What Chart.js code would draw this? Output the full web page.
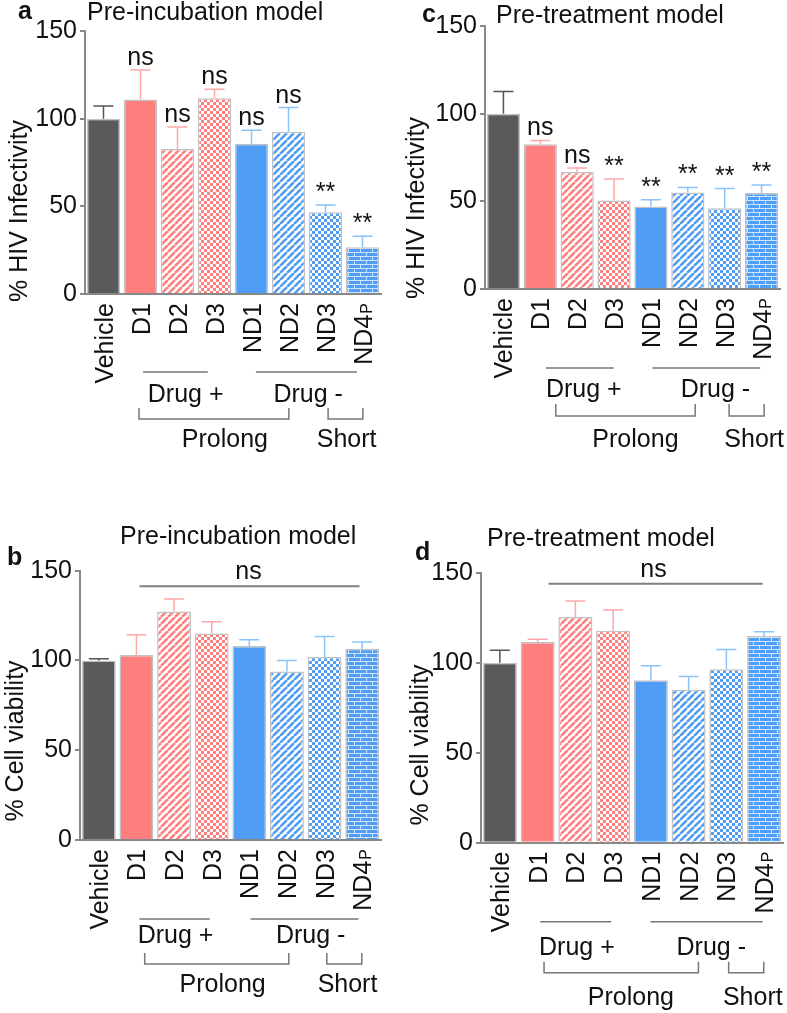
<!DOCTYPE html>
<html lang="en">
<head>
<meta charset="UTF-8">
<title>HIV infectivity and cell viability</title>
<script src="https://cdn.jsdelivr.net/npm/chart.js@4"></script>
<style>
  body { margin: 0; background: #fff; }
  canvas { position: absolute; }
</style>
</head>
<body>
<canvas id="chartA" width="393" height="510" style="left:0;top:0"></canvas>
<canvas id="chartC" width="394" height="510" style="left:393px;top:0"></canvas>
<canvas id="chartB" width="393" height="508" style="left:0;top:505px"></canvas>
<canvas id="chartD" width="394" height="508" style="left:393px;top:505px"></canvas>
<script>
// ---- data ----
const categories = ['Vehicle', 'D1', 'D2', 'D3', 'ND1', 'ND2', 'ND3', 'ND4P'];
const yTicks = [0, 50, 100, 150];

const infectPreIncubation    = [100, 111, 82.7, 111.6, 85.7, 92.6, 46.6, 26.6];
const infectPreIncubationErr = [7.2, 16.8, 12.6, 5.2, 7.7, 13.7, 4.2, 6.3];
const infectPreIncubationSig = ['', 'ns', 'ns', 'ns', 'ns', 'ns', '**', '**'];

const infectPreTreatment    = [100, 82.6, 66.7, 50.5, 47, 55, 46.1, 54.7];
const infectPreTreatmentErr = [12.6, 2.1, 2.3, 12.2, 3.9, 2.9, 11.2, 4.6];
const infectPreTreatmentSig = ['', 'ns', 'ns', '**', '**', '**', '**', '**'];

const viabPreIncubation    = [100, 103, 127.3, 115, 108, 93.9, 101.9, 106.5];
const viabPreIncubationErr = [1, 11.3, 6.9, 6.6, 3.5, 6.1, 11.5, 3.8];

const viabPreTreatment    = [100, 111.5, 125.4, 117.8, 90.2, 85, 96.3, 114.8];
const viabPreTreatmentErr = [6.9, 1.5, 8.9, 11.5, 8.1, 7.4, 11.1, 2.4];

// ---- look ----
const FONT = '"Liberation Sans", Arial, sans-serif';
const FS = 25;
const DARK = '#5a5a5a', SALMON = '#ff7f7f', BLUE = '#4f9df5';
const AXIS = '#888';

function tile(ctx, size, w, h, drawFn) {
  const c = document.createElement('canvas');
  c.width = w; c.height = h;
  drawFn(c.getContext('2d'));
  return ctx.createPattern(c, 'repeat');
}
function stripes(ctx, fg) {
  return tile(ctx, 7, 7, 7, g => {
    g.fillStyle = '#fff'; g.fillRect(0, 0, 7, 7);
    g.strokeStyle = fg; g.lineWidth = 2.6;
    g.beginPath();
    for (let k = -7; k <= 14; k += 7) { g.moveTo(k, 7); g.lineTo(k + 7, 0); }
    g.stroke();
  });
}
function checker(ctx, fg) {
  return tile(ctx, 6, 6, 6, g => {
    g.fillStyle = fg; g.fillRect(0, 0, 6, 6);
    g.fillStyle = '#fff'; g.fillRect(0, 0, 3, 3); g.fillRect(3, 3, 3, 3);
  });
}
function brick(ctx, fg) {
  return tile(ctx, 0, 12, 8, g => {
    g.fillStyle = fg; g.fillRect(0, 0, 12, 8);
    g.fillStyle = '#cfe4fd';
    g.fillRect(0, 0, 12, 1); g.fillRect(0, 4, 12, 1);
    g.fillRect(0, 0, 1, 4); g.fillRect(6, 4, 1, 4);
  });
}

function fills(ctx) {
  return [DARK, SALMON, stripes(ctx, SALMON), checker(ctx, SALMON),
          BLUE, stripes(ctx, BLUE), checker(ctx, BLUE), brick(ctx, BLUE)];
}
const errColors = ['#555', '#ffa8a8', '#ffa8a8', '#ffa8a8', '#8cc2fb', '#8cc2fb', '#8cc2fb', '#8cc2fb'];

const panels = [
  { id: 'chartA', letter: 'a', title: 'Pre-incubation model', yTitle: '% HIV Infectivity',
    values: infectPreIncubation, errors: infectPreIncubationErr, sig: infectPreIncubationSig,
    W: 393, H: 510, area: { l: 85, r: 381, t: 31, b: 294 },
    titleX: 87, titleY: 20, letterX: 18, letterY: 19, yTitleX: 27, yTitleY: 211,
    br: { line: 78, text: 108, top: 114, bot: 125, text2: 153,
          plus: [1.07, 2.82], minus: [4.12, 6.85], prolong: [0.96, 5.01], short: [6.07, 7.01],
          plusC: 2.22, minusC: 5.53, prolongC: 3.28, shortC: 6.57 } },
  { id: 'chartC', letter: 'c', title: 'Pre-treatment model', yTitle: '% HIV Infectivity',
    values: infectPreTreatment, errors: infectPreTreatmentErr, sig: infectPreTreatmentSig,
    W: 394, H: 510, area: { l: 92, r: 387, t: 26, b: 289 },
    titleX: 103, titleY: 23, letterX: 29, letterY: 22, yTitleX: 31, yTitleY: 208,
    br: { line: 79, text: 108, top: 115, bot: 127, text2: 158,
          plus: [1.15, 2.99], minus: [4.04, 6.96], prolong: [1.42, 5.2], short: [6.12, 7.07],
          plusC: 2.18, minusC: 5.75, prolongC: 3.58, shortC: 6.8 } },
  { id: 'chartB', letter: 'b', title: 'Pre-incubation model', yTitle: '% Cell viability',
    values: viabPreIncubation, errors: viabPreIncubationErr, sig: null,
    W: 393, H: 508, area: { l: 80, r: 381, t: 65.7, b: 335 },
    titleX: 120, titleY: 39, letterX: 7, letterY: 60, yTitleX: 23, yTitleY: 236,
    ns: { from: 1.08, to: 6.93, y: 141.3, textX: 3.98, textY: 145.6 },
    br: { line: 79, text: 103, top: 113, bot: 124, text2: 152,
          plus: [1.08, 2.95], minus: [4.03, 6.9], prolong: [1.22, 5.05], short: [6.06, 6.99],
          plusC: 2.04, minusC: 5.63, prolongC: 3.29, shortC: 6.61 } },
  { id: 'chartD', letter: 'd', title: 'Pre-treatment model', yTitle: '% Cell viability',
    values: viabPreTreatment, errors: viabPreTreatmentErr, sig: null,
    W: 394, H: 508, area: { l: 88, r: 390, t: 67.7, b: 337.7 },
    titleX: 94, titleY: 41, letterX: 22, letterY: 55, yTitleX: 35, yTitleY: 240,
    ns: { from: 1.29, to: 6.96, y: 143.9, textX: 4.07, textY: 147.6 },
    br: { line: 79, text: 112, top: 119, bot: 130, text2: 162,
          plus: [1.07, 2.95], minus: [3.99, 6.96], prolong: [1.17, 5.26], short: [6.06, 6.99],
          plusC: 2.04, minusC: 5.6, prolongC: 3.47, shortC: 6.7 } }
];

function text(ctx, s, x, y, opts = {}) {
  ctx.save();
  ctx.font = (opts.bold ? 'bold ' : '') + (opts.size || FS) + 'px ' + FONT;
  ctx.fillStyle = opts.color || '#111';
  ctx.textAlign = opts.align || 'left';
  ctx.textBaseline = 'alphabetic';
  ctx.fillText(s, x, y);
  ctx.restore();
}

function catLabel(ctx, label, x, y) {
  ctx.save();
  ctx.translate(x, y);
  ctx.rotate(-Math.PI / 2);
  ctx.textAlign = 'right';
  ctx.fillStyle = '#111';
  const off = FS * 0.36;
  if (label === 'ND4P') {
    ctx.font = Math.round(FS * 0.62) + 'px ' + FONT;
    ctx.fillText('P', 0, off);
    const w = ctx.measureText('P').width;
    ctx.font = FS + 'px ' + FONT;
    ctx.fillText('ND4', -w - 1, off);
  } else {
    ctx.font = FS + 'px ' + FONT;
    ctx.fillText(label, 0, off);
  }
  ctx.restore();
}

function makeExtras(p) {
  return {
    id: 'extras_' + p.id,
    afterDatasetsDraw(chart) {
      const ctx = chart.ctx, y = chart.scales.y;
      const bars = chart.getDatasetMeta(0).data;
      ctx.save();
      ctx.lineWidth = 1.5;
      bars.forEach((bar, i) => {
        const top = y.getPixelForValue(p.values[i] + p.errors[i]);
        const base = y.getPixelForValue(p.values[i]);
        ctx.strokeStyle = errColors[i];
        ctx.beginPath();
        ctx.moveTo(bar.x, base); ctx.lineTo(bar.x, top);
        ctx.moveTo(bar.x - 10, top); ctx.lineTo(bar.x + 10, top);
        ctx.stroke();
        if (p.sig && p.sig[i]) text(ctx, p.sig[i], bar.x, top - 5, { align: 'center' });
      });
      ctx.restore();
    },
    afterDraw(chart) {
      const ctx = chart.ctx, x = chart.scales.x, y = chart.scales.y;
      const x0 = x.getPixelForValue(0), step = x.getPixelForValue(1) - x0;
      const px = u => x0 + u * step;
      const bottom = chart.chartArea.bottom;

      text(ctx, p.letter, p.letterX, p.letterY, { bold: true });
      text(ctx, p.title, p.titleX, p.titleY);

      ctx.save();
      ctx.translate(p.yTitleX, p.yTitleY);
      ctx.rotate(-Math.PI / 2);
      text(ctx, p.yTitle, 0, 0, { align: 'center' });
      ctx.restore();

      categories.forEach((c, i) => catLabel(ctx, c, px(i), bottom + 9));

      const b = p.br;
      ctx.save();
      ctx.strokeStyle = '#777';
      ctx.lineWidth = 1.5;
      ctx.beginPath();
      ctx.moveTo(px(b.plus[0]), bottom + b.line); ctx.lineTo(px(b.plus[1]), bottom + b.line);
      ctx.moveTo(px(b.minus[0]), bottom + b.line); ctx.lineTo(px(b.minus[1]), bottom + b.line);
      [b.prolong, b.short].forEach(r => {
        ctx.moveTo(px(r[0]), bottom + b.top);
        ctx.lineTo(px(r[0]), bottom + b.bot);
        ctx.lineTo(px(r[1]), bottom + b.bot);
        ctx.lineTo(px(r[1]), bottom + b.top);
      });
      ctx.stroke();
      ctx.restore();
      text(ctx, 'Drug +', px(b.plusC), bottom + b.text, { align: 'center' });
      text(ctx, 'Drug -', px(b.minusC), bottom + b.text, { align: 'center' });
      text(ctx, 'Prolong', px(b.prolongC), bottom + b.text2, { align: 'center' });
      text(ctx, 'Short', px(b.shortC), bottom + b.text2, { align: 'center' });

      if (p.ns) {
        const ly = y.getPixelForValue(p.ns.y);
        ctx.save();
        ctx.strokeStyle = '#808080';
        ctx.lineWidth = 2;
        ctx.beginPath();
        ctx.moveTo(px(p.ns.from), ly); ctx.lineTo(px(p.ns.to), ly);
        ctx.stroke();
        ctx.restore();
        text(ctx, 'ns', px(p.ns.textX), y.getPixelForValue(p.ns.textY), { align: 'center' });
      }
    }
  };
}

panels.forEach(p => {
  const canvas = document.getElementById(p.id);
  const ctx = canvas.getContext('2d');
  new Chart(ctx, {
    type: 'bar',
    data: {
      labels: categories,
      datasets: [{
        data: p.values,
        backgroundColor: fills(ctx),
        borderColor: '#c2c2c2',
        borderWidth: 1.5,
        barPercentage: 0.9,
        categoryPercentage: 1.0
      }]
    },
    options: {
      responsive: false,
      animation: false,
      layout: { padding: { left: 0, top: p.area.t, right: p.W - p.area.r, bottom: 0 } },
      plugins: { legend: { display: false }, tooltip: { enabled: false } },
      scales: {
        x: {
          grid: { display: false },
          border: { display: true, color: AXIS, width: 2 },
          ticks: { display: false },
          afterFit: s => { s.height = p.H - p.area.b; }
        },
        y: {
          min: 0, max: 150,
          afterBuildTicks: s => { s.ticks = yTicks.map(v => ({ value: v })); },
          grid: { display: true, drawOnChartArea: false, drawTicks: true, tickLength: 5, color: AXIS, lineWidth: 2 },
          border: { display: true, color: AXIS, width: 2 },
          ticks: { color: '#111', padding: 3, font: { family: FONT, size: FS } },
          afterFit: s => { s.width = p.area.l; }
        }
      }
    },
    plugins: [makeExtras(p)]
  });
});
</script>
</body>
</html>
